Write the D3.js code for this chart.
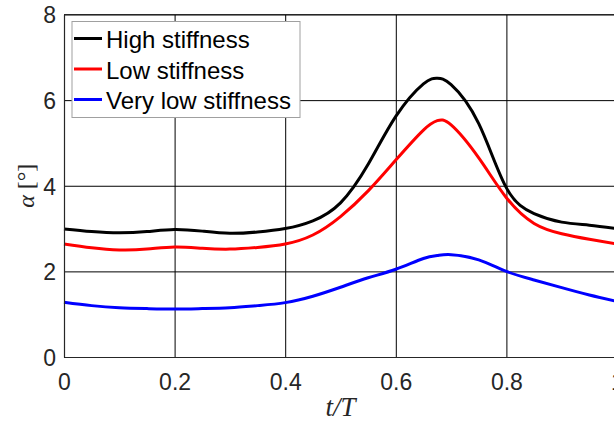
<!DOCTYPE html>
<html>
<head>
<meta charset="utf-8">
<script src="https://cdn.jsdelivr.net/npm/d3@7"></script>
<style>
  body { margin: 0; background: #fff; overflow: hidden; }
  svg { display: block; }
</style>
</head>
<body>
<div id="chart"></div>
<script>
// data
var tValues = [0, 0.05, 0.1, 0.15, 0.2, 0.25, 0.3, 0.35, 0.4, 0.45, 0.5, 0.55, 0.6, 0.65, 0.675, 0.7, 0.75, 0.8, 0.85, 0.9, 0.95, 1.0];
var highStiffness = [2.99, 2.93, 2.90, 2.93, 2.98, 2.94, 2.89, 2.92, 3.00, 3.18, 3.6, 4.5, 5.62, 6.38, 6.51, 6.36, 5.45, 3.95, 3.35, 3.15, 3.08, 3.0];
var lowStiffness = [2.64, 2.55, 2.50, 2.52, 2.57, 2.54, 2.52, 2.56, 2.64, 2.85, 3.28, 3.88, 4.6, 5.3, 5.52, 5.42, 4.65, 3.72, 3.12, 2.88, 2.75, 2.64];
var veryLowStiffness = [1.28, 1.2, 1.15, 1.13, 1.12, 1.13, 1.15, 1.2, 1.27, 1.42, 1.63, 1.85, 2.05, 2.3, 2.37, 2.39, 2.27, 2.0, 1.8, 1.62, 1.45, 1.3];
var seriesNames = ['High stiffness', 'Low stiffness', 'Very low stiffness'];
var seriesColors = ['#000000', '#ff0000', '#0000ff'];
var xTicks = [0, 0.2, 0.4, 0.6, 0.8, 1];
var yTicks = [0, 2, 4, 6, 8];

var width = 614, height = 423;
var margin = {top: 14.5, right: -3, bottom: 66, left: 64};
var w = width - margin.left - margin.right;
var h = height - margin.top - margin.bottom;

var x = d3.scaleLinear().domain([0, 1]).range([0, w]);
var y = d3.scaleLinear().domain([0, 8]).range([h, 0]);

var svg = d3.select('#chart').append('svg')
    .attr('width', width)
    .attr('height', height)
  .append('g')
    .attr('transform', 'translate(' + margin.left + ',' + margin.top + ')');

// grid
svg.append('g')
    .attr('class', 'grid')
    .attr('transform', 'translate(0,' + h + ')')
    .call(d3.axisBottom(x).tickValues(xTicks).tickSize(-h).tickFormat(''))
    .call(function (g) { g.select('.domain').remove(); })
    .selectAll('line').attr('stroke', '#000').attr('stroke-width', 1);

svg.append('g')
    .attr('class', 'grid')
    .call(d3.axisLeft(y).tickValues(yTicks).tickSize(-w).tickFormat(''))
    .call(function (g) { g.select('.domain').remove(); })
    .selectAll('line').attr('stroke', '#000').attr('stroke-width', 1);

// lines
var line = d3.line()
    .x(function (d) { return x(d[0]); })
    .y(function (d) { return y(d[1]); })
    .curve(d3.curveNatural);

[highStiffness, lowStiffness, veryLowStiffness].forEach(function (vals, i) {
  svg.append('path')
      .datum(tValues.map(function (t, j) { return [t, vals[j]]; }))
      .attr('fill', 'none')
      .attr('stroke', seriesColors[i])
      .attr('stroke-width', 3)
      .attr('d', line);
});

// axes
var xAxis = svg.append('g')
    .attr('transform', 'translate(0,' + h + ')')
    .call(d3.axisBottom(x).tickValues(xTicks).tickSize(0).tickPadding(17).tickFormat(d3.format('')));
var yAxis = svg.append('g')
    .call(d3.axisLeft(y).tickValues(yTicks).tickSize(0).tickPadding(8).tickFormat(d3.format('')));

[xAxis, yAxis].forEach(function (g) {
  g.select('.domain').attr('stroke', '#262626').attr('stroke-width', 1.2);
  g.selectAll('text')
      .attr('fill', '#262626')
      .style('font-family', '"Liberation Sans", Arial, sans-serif')
      .style('font-size', '23px');
});
yAxis.selectAll('text').attr('dy', '0.36em');

// top border
svg.append('line')
    .attr('x1', 0).attr('x2', w)
    .attr('y1', 0).attr('y2', 0)
    .attr('stroke', '#262626').attr('stroke-width', 1.2);

// axis labels
svg.append('text')
    .attr('x', w / 2)
    .attr('y', h + 59)
    .attr('text-anchor', 'middle')
    .attr('fill', '#262626')
    .style('font-family', '"Liberation Serif", "DejaVu Serif", serif')
    .style('font-style', 'italic')
    .style('font-size', '27px')
    .text('t/T');

svg.append('text')
    .attr('transform', 'translate(' + (-margin.left + 34) + ',' + (h / 2) + ') rotate(-90)')
    .attr('text-anchor', 'middle')
    .attr('fill', '#262626')
    .style('font-family', '"Liberation Serif", "DejaVu Serif", serif')
    .style('font-size', '24px')
    .html('<tspan font-style="italic">α</tspan> [°]');

// legend
var legend = svg.append('g')
    .attr('transform', 'translate(' + (72 - margin.left) + ',' + (21.5 - margin.top) + ')');

legend.append('rect')
    .attr('width', 228)
    .attr('height', 96)
    .attr('fill', '#fff')
    .attr('stroke', '#a0a0a0')
    .attr('stroke-width', 1);

seriesNames.forEach(function (name, i) {
  var yy = 17 + i * 30.5;
  legend.append('line')
      .attr('x1', 2).attr('x2', 30)
      .attr('y1', yy).attr('y2', yy)
      .attr('stroke', seriesColors[i])
      .attr('stroke-width', 3);
  legend.append('text')
      .attr('x', 34)
      .attr('y', yy + 9.5)
      .attr('fill', '#000')
      .style('font-family', '"Liberation Sans", Arial, sans-serif')
      .style('font-size', '24px')
      .text(name);
});
</script>
</body>
</html>
